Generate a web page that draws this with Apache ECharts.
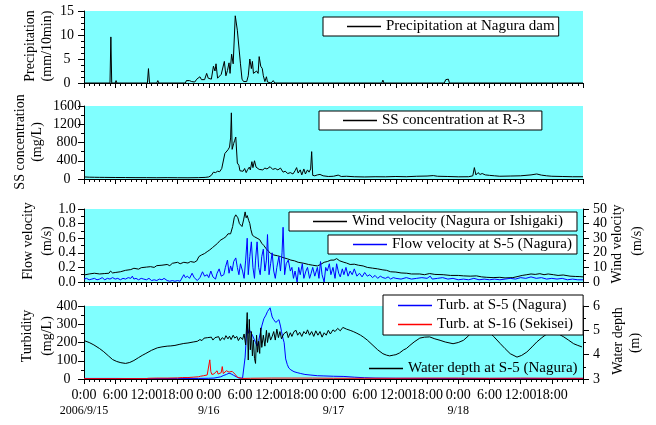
<!DOCTYPE html>
<html><head><meta charset="utf-8">
<script src="https://cdn.jsdelivr.net/npm/echarts@6/dist/echarts.min.js"></script>
<style>html,body{margin:0;padding:0;background:#fff}#c{width:656px;height:425px}</style>
</head><body><div id="c"></div>
<script>
// ---------- DATA (hours since 2006/9/15 0:00) ----------
const timeTicksHours = [0,6,12,18,24,30,36,42,48,54,60,66,72,78,84,90];
const timeTickLabels = ['0:00','6:00','12:00','18:00','0:00','6:00','12:00','18:00','0:00','6:00','12:00','18:00','0:00','6:00','12:00','18:00'];
const dateLabels = {0:'2006/9/15',24:'9/16',48:'9/17',72:'9/18'};

const precipT = [0,5.0,5.17,5.33,6.0,6.17,6.33,12.2,12.4,12.6,14.0,14.2,14.4,19.5,19.7,20.0,20.3,20.7,21.0,21.3,21.7,22.0,22.3,22.6,22.9,23.2,23.6,23.9,24.2,24.5,24.9,25.2,25.4,25.7,26.0,26.4,26.7,27.0,27.3,27.6,27.9,28.1,28.4,28.7,29.1,29.5,29.8,30.1,30.4,30.7,31.0,31.3,31.6,31.9,32.2,32.4,32.6,32.9,33.2,33.5,33.7,34.0,34.3,34.5,34.8,35.1,35.3,35.6,36.0,36.4,36.7,57.3,57.5,57.7,61.9,62.1,62.3,69.3,69.6,69.8,70.1,70.3,96];
const precipV = [0,0,9.6,0,0,0.5,0,0,3.0,0,0,0.5,0,0,0.5,0.3,0.5,0.3,0.5,0.2,0.8,0.5,1.3,0.7,1.1,0.7,2.0,1.0,1.4,0.8,3.5,2.5,4.0,1.0,1.3,1.8,2.2,4.5,1.5,2.6,4.2,2.0,6.0,4.0,14.0,11.0,7.5,4.0,0.8,0.3,0.5,0.3,1.5,5.0,3.0,4.5,2.0,1.8,2.5,2.0,5.5,3.5,3.0,1.5,0.3,1.3,0.2,0.3,0,0.5,0,0,0.6,0,0,0.4,0,0,0.7,0.3,0.8,0,0];

const ssT = [0,1,2,3,4,6,8,10,12,14,16,18,20,22,23.3,24,24.5,24.9,25.3,25.7,26.1,26.5,26.8,27.1,27.4,27.7,28.0,28.2,28.35,28.5,28.8,29.0,29.2,29.5,29.8,30.0,30.3,30.6,30.9,31.2,31.5,31.8,32.0,32.3,32.5,32.8,33.1,33.4,33.7,34.0,34.4,34.8,35.2,35.8,36.3,36.8,37.3,37.8,38.0,38.3,38.7,39.2,39.7,40.2,40.6,40.9,41.2,41.6,41.9,42.3,42.6,43.0,43.3,43.6,43.8,44.0,44.4,44.9,45.4,46.0,47,48,48.9,49.5,50.5,52,54,56,58,60,62,64,66,67.2,68,70,72,74,74.8,75.1,75.4,75.8,76.2,76.6,77.2,78,79,80,82,84,86,87.1,88,89,90,92,94,96];
const ssV = [45,40,38,36,35,33,32,30,30,28,30,28,27,30,35,45,80,150,140,170,160,230,260,560,520,640,700,900,1450,650,780,850,920,350,300,180,200,170,230,140,210,260,200,380,250,400,260,300,210,230,200,240,220,270,210,230,200,240,270,150,170,120,140,110,180,250,130,200,90,220,110,200,150,220,600,80,70,90,100,70,55,60,85,55,60,50,45,50,48,55,50,60,65,75,60,55,48,50,70,250,90,140,100,120,90,80,70,60,65,70,90,110,85,70,60,55,50,50];

const windT = [0,1,2,3,4,4.8,5.1,5.5,6,7,8,9,9.6,10.5,11,12,12.8,13.5,14,15,16,16.5,17,18,18.5,19.2,20,20.5,21.2,21.7,22.1,22.6,23.2,23.7,24.2,24.7,25.2,25.7,26.2,26.5,26.9,27.3,27.7,28.2,28.6,28.9,29.2,29.6,29.9,30.1,30.4,30.7,31.0,31.2,31.4,31.7,31.9,32.1,32.4,32.8,33.3,33.8,34.2,34.6,35.0,35.5,35.9,36.5,37.2,37.8,38.5,39.2,39.8,40.5,41.2,42.3,43.2,44.0,44.9,45.5,46.2,46.8,47.5,48.1,48.6,49.2,50.0,50.5,51.2,52.0,52.8,53.7,54.5,55.5,56.5,57.5,58.2,59,60,61,62.1,63,64.6,65.5,66.5,67.5,69.1,70.5,72,73,74.3,75.5,76.5,77.5,78.7,80,81,82.5,83.5,84.3,85.2,86,86.8,87.7,88.5,89.3,90.3,91.2,92.2,93.5,94.5,95.4,96];
const windV = [4.8,5.5,6.0,5.5,5.8,6.0,7.5,6.2,6.5,7.0,8.0,8.5,9.4,8.8,9.8,10.2,10.5,10.0,11.2,11.5,12.0,11.2,12.8,13.5,12.5,13.5,13.0,14.0,13.5,14.5,17.4,18.5,19.5,20.8,22.0,23.5,25.0,26.5,28.5,27.5,30.0,31.0,33.0,33.0,38.0,44.0,46.0,44.0,40.0,40.5,38.0,42.5,48.0,44.0,45.5,42.0,40.0,36.0,32.0,31.0,30.0,29.0,26.5,25.0,23.0,21.0,19.6,18.5,18.0,17.4,16.5,15.8,15.0,14.5,13.5,12.8,12.0,11.5,11.0,12.0,13.5,14.0,15.0,15.0,16.0,14.5,13.5,13.0,12.0,12.2,11.5,11.0,10.0,9.5,9.0,8.3,8.0,7.0,6.8,6.2,6.0,5.5,5.5,5.0,5.8,5.2,5.0,4.5,4.5,4.2,4.0,4.2,3.5,3.2,3.0,3.2,2.8,3.0,3.8,4.5,5.0,5.5,5.2,5.7,5.0,5.5,5.0,4.5,4.8,4.0,3.8,3.7,3.5];

const flowT = [0,0.5,1,1.5,2,2.5,3,3.5,4,4.5,5,5.5,6,6.5,7,7.5,8,8.5,9,9.3,9.6,10,10.5,11,11.5,12,12.5,13,13.5,14,14.5,15.0,15.4,16,16.5,17,17.5,18,18.5,19.2,19.5,19.9,20.3,20.8,21.2,21.8,22.3,22.8,23.2,23.7,24.0,24.4,24.8,25.3,25.6,26.0,26.4,26.9,27.2,27.6,27.9,28.2,28.5,28.8,29.2,29.5,29.8,30.1,30.5,30.8,31.1,31.4,31.6,31.9,32.2,32.5,32.8,33.0,33.3,33.6,33.9,34.2,34.5,34.8,35.1,35.3,35.6,35.9,36.2,36.5,36.8,37.1,37.5,37.8,38.1,38.3,38.6,38.9,39.3,39.7,40.0,40.3,40.6,41.0,41.3,41.6,42.0,42.3,42.7,43.0,43.4,43.7,44.0,44.4,44.9,45.2,45.5,45.8,46.2,46.5,46.8,47.2,47.5,47.9,48.3,48.6,49.0,49.3,49.7,50.0,50.4,50.8,51.2,51.6,52.0,52.5,53.0,53.5,54.0,54.5,55.0,55.5,56.0,56.5,57.0,57.5,58.0,58.5,59.0,59.5,60,61,62,63,64,65,66,66.6,67,68,69,70,71,72,73,74,75,76,77,78,79,80,81,82,83,84,85,86,87,88,89,90,91,92,93,94,95,96];
const flowV = [0.04,0.05,0.03,0.04,0.05,0.03,0.04,0.06,0.03,0.05,0.04,0.06,0.04,0.05,0.03,0.05,0.04,0.06,0.05,0.08,0.04,0.05,0.03,0.05,0.04,0.03,0.05,0.02,0.03,0.02,0.04,0.03,0.05,0.02,0.01,0.02,0.01,0.02,0.01,0.10,0.06,0.08,0.05,0.12,0.06,0.02,0.06,0.14,0.08,0.10,0.06,0.15,0.07,0.04,0.12,0.18,0.08,0.10,0.20,0.30,0.12,0.22,0.15,0.28,0.33,0.20,0.10,0.25,0.15,0.05,0.30,0.60,0.10,0.35,0.55,0.20,0.05,0.30,0.55,0.20,0.10,0.35,0.45,0.15,0.30,0.65,0.10,0.25,0.40,0.15,0.05,0.20,0.35,0.15,0.40,0.75,0.10,0.25,0.30,0.15,0.20,0.05,0.15,0.00,0.20,0.10,0.25,0.05,0.15,0.20,0.05,0.12,0.20,0.08,0.20,0.05,0.28,0.10,0.00,0.20,0.15,0.25,0.10,0.20,0.05,0.25,0.12,0.07,0.18,0.10,0.20,0.08,0.15,0.10,0.18,0.08,0.12,0.07,0.13,0.08,0.10,0.06,0.09,0.05,0.08,0.06,0.05,0.07,0.04,0.06,0.05,0.04,0.06,0.04,0.05,0.06,0.05,0.08,0.04,0.05,0.06,0.04,0.05,0.03,0.04,0.03,0.05,0.03,0.04,0.03,0.04,0.03,0.04,0.05,0.04,0.06,0.05,0.07,0.05,0.06,0.04,0.05,0.04,0.05,0.03,0.04,0.03,0.03];

const depthT = [0,1,1.9,3,3.8,4.7,5.5,6.3,7.1,8.0,8.8,9.6,10.5,11.2,11.9,13,14.1,15,16,16.7,17.5,18.3,19.2,20,21,21.8,22.3,22.7,23.1,23.4,23.8,24.1,24.5,24.8,25.2,25.5,25.9,26.2,26.6,27.0,27.3,27.7,28.0,28.3,28.7,29.0,29.4,29.7,30.1,30.5,30.8,31.1,31.4,31.6,31.8,32.0,32.2,32.4,32.6,32.8,33.0,33.2,33.4,33.6,33.8,34.0,34.2,34.5,34.8,35.1,35.3,35.6,35.9,36.2,36.5,36.8,37.1,37.4,37.7,38.0,38.4,38.7,39.0,39.3,39.7,40.0,40.4,40.8,41.1,41.5,41.9,42.3,42.7,43.0,43.4,43.8,44.2,44.6,45.0,45.4,45.8,46.2,46.6,47.0,47.4,47.9,48.3,48.8,49.3,49.8,50.5,51.2,51.8,52.5,53.2,53.7,54.5,55.6,56.5,57.5,58.2,58.8,59.5,60.0,60.7,61.5,62.0,62.7,63.5,64.6,65.5,66.5,67.5,68.5,69.5,71.0,72.0,73.0,74.0,74.9,75.7,76.5,77.5,78.8,80.1,81.0,82.0,83.3,84.2,85.2,86.2,87.1,88.1,89.1,90.3,91.3,92.3,93.2,94.2,95.0,95.8];
const depthV = [4.58,4.50,4.40,4.25,4.12,3.95,3.80,3.72,3.67,3.64,3.68,3.76,3.88,3.97,4.05,4.18,4.28,4.32,4.35,4.36,4.38,4.42,4.46,4.48,4.52,4.55,4.62,4.58,4.68,4.60,4.70,4.62,4.72,4.60,4.70,4.64,4.74,4.58,4.70,4.62,4.78,4.65,4.76,4.62,4.80,4.68,4.75,4.58,4.72,4.62,4.85,4.40,5.73,3.78,5.45,4.20,4.95,3.95,4.60,3.85,3.64,4.80,4.10,4.55,4.05,5.10,4.30,4.80,4.35,5.00,4.50,4.90,4.60,4.75,4.95,4.60,5.05,4.70,4.95,4.65,4.85,4.78,4.95,4.70,4.90,4.75,4.95,5.00,4.80,4.92,4.75,4.95,4.85,5.02,4.80,4.95,4.75,4.98,4.80,4.95,4.72,4.90,4.80,5.00,4.85,5.02,4.95,5.08,4.98,5.12,5.05,5.00,4.95,4.88,4.80,4.73,4.60,4.38,4.20,4.04,3.98,3.95,3.98,4.00,4.07,4.20,4.25,4.38,4.52,4.68,4.72,4.73,4.65,4.59,4.52,4.45,4.50,4.59,4.78,5.00,5.12,5.15,5.00,4.75,4.45,4.25,4.04,3.90,3.97,4.11,4.32,4.52,4.70,4.86,4.93,4.85,4.73,4.60,4.45,4.38,4.32];

const turbS5T = [0,6,12,18,22,24,25,25.6,26.3,26.9,27.4,27.9,28.3,28.8,29.3,29.8,30.5,30.8,31.0,31.2,31.4,31.6,31.8,32.1,32.4,32.7,33.0,33.3,33.6,33.9,34.2,34.6,35.0,35.3,35.6,35.8,36.0,36.2,36.5,36.9,37.2,37.5,37.8,38.0,38.3,38.5,38.8,39.1,39.4,39.8,40.4,41.0,41.7,42.5,43.5,44.9,46,48,50,52,54,56,60,66,72,78,84,90,96];
const turbS5V = [3,3,2,3,3,4,5,8,12,20,25,32,28,20,12,5,4,6,120,220,300,250,270,280,240,230,200,180,210,250,290,330,350,370,375,390,365,340,325,310,300,325,290,260,220,200,110,80,60,50,40,35,30,25,22,18,17,15,14,10,7,5,4,3,3,3,3,3,3];

const turbS16T = [0,6,11.9,12.2,12.4,14,16,18,19,20,21,22,22.4,23,23.7,24.0,24.2,24.4,24.6,25.0,25.3,25.6,25.8,26.1,26.4,26.6,26.8,27.1,27.4,27.6,27.9,28.2,28.5,28.8,29.1,29.5,30.0,30.5,32,36,40,44,48,54,60,66,72,78,84,90,96];
const turbS16V = [2,2,2,9,4,5,5,6,8,8,10,12,15,18,22,30,105,40,25,28,32,45,27,30,35,68,30,40,45,42,38,48,42,35,25,10,6,3,4,5,5,5,4,4,4,5,5,4,5,4,4];

// ---------- CHART ----------
const FONT = '"Liberation Serif","Times New Roman",serif';
const zip = (t, v) => t.map((x, i) => [x, v[i]]);
const GRIDS = [
  {left:84, top:11, width:499, height:72},
  {left:84, top:106, width:499, height:73},
  {left:84, top:209, width:499, height:73},
  {left:84, top:306, width:499, height:73}
];

function xAx(gi, labels) {
  return {
    type:'value', gridIndex:gi, min:0, max:96, interval:6,
    axisLine:{show:true, onZero:false, lineStyle:{color:'#000', width:1}},
    axisTick:{show:true, inside:false, length:5, lineStyle:{color:'#000', width:1}},
    minorTick:{show:true, splitNumber:6, length:3, lineStyle:{color:'#000', width:1}},
    splitLine:{show:false}, minorSplitLine:{show:false},
    axisLabel: labels ? {
      show:true, margin:9, interval:0, hideOverlap:false, showMinLabel:true, showMaxLabel:true,
      color:'#000', fontFamily:FONT, fontSize:14,
      formatter: function (v) {
        const i = timeTicksHours.indexOf(v);
        return i < 0 ? '' : timeTickLabels[i];
      }
    } : {show:false}
  };
}
// separate axis carrying only the date row under the bottom panel
const dateAxis = {
  type:'value', gridIndex:3, position:'bottom', min:0, max:96, interval:24,
  axisLine:{show:false}, axisTick:{show:false}, splitLine:{show:false},
  axisLabel:{show:true, margin:26, showMinLabel:true, showMaxLabel:true, hideOverlap:false,
    color:'#000', fontFamily:FONT, fontSize:12,
    formatter: v => (dateLabels[v] !== undefined ? dateLabels[v] : '')}
};

function yAx(gi, pos, min, max, interval, split, fmt) {
  const left = pos === 'left';
  return {
    type:'value', gridIndex:gi, position:pos, min:min, max:max, interval:interval,
    axisLine:{show:true, onZero:false, lineStyle:{color:'#000', width:1}},
    axisTick:{show:true, inside:false, length:6, lineStyle:{color:'#000', width:1}},
    minorTick:{show:true, splitNumber:split, length:3, lineStyle:{color:'#000', width:1}},
    splitLine:{show:false}, minorSplitLine:{show:false},
    axisLabel:{show:true, color:'#000', fontFamily:FONT, fontSize:14,
      showMinLabel:true, showMaxLabel:true,
      align: left ? 'center' : 'left', margin: left ? 17 : 10,
      formatter: fmt || (v => String(v))}
  };
}

const legendBase = {
  orient:'vertical', icon:'rect', itemWidth:34, itemHeight:1.5, itemGap:4,
  backgroundColor:'#fff', borderColor:'#000', borderWidth:1, borderRadius:0,
  selectedMode:false, textStyle:{fontFamily:FONT, fontSize:15, color:'#000'}
};

function line(name, xi, yi, t, v, color) {
  return {name:name, type:'line', xAxisIndex:xi, yAxisIndex:yi, data:zip(t, v),
    symbol:'none', showSymbol:false, lineStyle:{color:color, width:1}, itemStyle:{color:color},
    animation:false};
}

function vtitle(text, x, y) {
  return {type:'text', x:x, y:y, rotation:Math.PI/2,
    style:{text:text, font:'14px ' + FONT, fill:'#000',
      align:'center', verticalAlign:'middle', textAlign:'center', textVerticalAlign:'middle'}};
}

const chart = echarts.init(document.getElementById('c'), null, {renderer:'canvas'});
chart.setOption({
  animation:false,
  backgroundColor:'#fff',
  grid: GRIDS.map(g => Object.assign({show:true, backgroundColor:'#80ffff', borderWidth:0, containLabel:false, outerBoundsMode:'none'}, g)),
  xAxis:[xAx(0,false), xAx(1,false), xAx(2,false), xAx(3,true), dateAxis],
  yAxis:[
    yAx(0,'left',0,15,5,4),
    yAx(1,'left',0,1600,400,2),
    yAx(2,'left',0,1,0.2,2, v => v.toFixed(1)),
    yAx(2,'right',0,50,10,2),
    yAx(3,'left',0,400,100,2),
    yAx(3,'right',3,6,1,2)
  ],
  legend:[
    Object.assign({}, legendBase, {left:323, top:17, padding:[2,4,2,24], data:['Precipitation at Nagura dam']}),
    Object.assign({}, legendBase, {left:319, top:111, padding:[2,17,2,24], data:['SS concentration at R-3']}),
    Object.assign({}, legendBase, {left:289, top:212, padding:[2,14,2,24], data:['Wind velocity (Nagura or Ishigaki)']}),
    Object.assign({}, legendBase, {left:328, top:235, padding:[2,5,2,25], data:['Flow velocity at S-5 (Nagura)']}),
    Object.assign({}, legendBase, {left:383, top:295, padding:[3,10,3,15], data:['Turb. at S-5 (Nagura)','Turb. at S-16 (Sekisei)']}),
    Object.assign({}, legendBase, {left:369, top:361, padding:0, backgroundColor:'transparent', borderWidth:0, data:['Water depth at S-5 (Nagura)']})
  ],
  series:[
    line('Precipitation at Nagura dam', 0, 0, precipT, precipV, '#000'),
    line('SS concentration at R-3', 1, 1, ssT, ssV, '#000'),
    line('Wind velocity (Nagura or Ishigaki)', 2, 3, windT, windV, '#000'),
    line('Flow velocity at S-5 (Nagura)', 2, 2, flowT, flowV, '#0000ff'),
    line('Turb. at S-5 (Nagura)', 3, 4, turbS5T, turbS5V, '#0000ff'),
    line('Turb. at S-16 (Sekisei)', 3, 4, turbS16T, turbS16V, '#ff0000'),
    line('Water depth at S-5 (Nagura)', 3, 5, depthT, depthV, '#000')
  ],
  graphic:[
    vtitle('Precipitation', 30, 46), vtitle('(mm/10min)', 47, 46),
    vtitle('SS concentration', 20, 142), vtitle('(mg/L)', 37, 142),
    vtitle('Flow velocity', 28, 241), vtitle('(m/s)', 47, 241),
    vtitle('Turbidity', 27, 336), vtitle('(mg/L)', 47, 336),
    vtitle('Wind velocity', 617, 244), vtitle('(m/s)', 637, 241),
    vtitle('Water depth', 618, 341), vtitle('(m)', 635, 343)
  ]
});
</script></body></html>
